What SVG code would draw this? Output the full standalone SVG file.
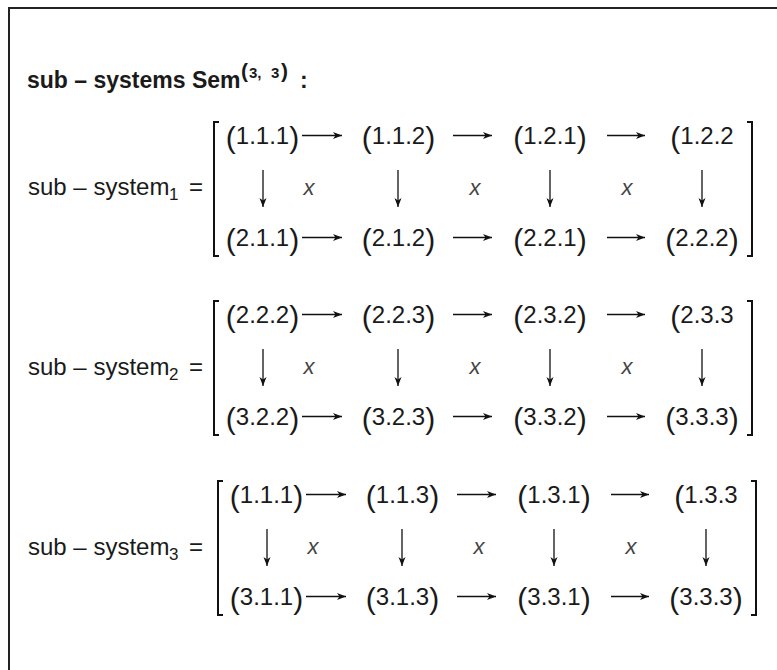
<svg xmlns="http://www.w3.org/2000/svg" width="777" height="670" viewBox="0 0 777 670">
<defs>
<style>
text{font-family:"Liberation Sans",Arial,sans-serif;fill:#1a1a1a}
.lbl{font-size:24px}
.sub{font-size:17px}
.e{font-size:24px;text-anchor:middle}
.p{font-size:30px}
.x{font-size:22px;font-style:italic;fill:#444;text-anchor:middle}
.br{fill:none;stroke:#111;stroke-width:2}
.c line{stroke:#111;stroke-width:1.3;marker-end:url(#ah)}
</style>
<marker id="ah" markerUnits="userSpaceOnUse" markerWidth="10" markerHeight="8" refX="9" refY="4" orient="auto">
<path d="M0,0.5 L9,4 L0,7.5 L2.5,4 z" fill="#111"/>
</marker>
</defs>
<rect width="777" height="670" fill="#fff"/>
<g id="frame"><path d="M9,670 V8 H777" fill="none" stroke="#222" stroke-width="2"/></g>

<g id="title">
<text x="27" y="88" font-size="23" font-weight="bold">sub – systems Sem</text>
<text y="78" font-weight="bold"><tspan x="241" font-size="21">(</tspan><tspan x="249" font-size="15">3,</tspan><tspan x="271" font-size="15">3</tspan><tspan x="281" font-size="21">)</tspan></text>
<text x="300" y="88" font-size="23" font-weight="bold">:</text>
</g>

<!-- sub-system 1 -->
<g id="system1">
<g id="label1"><text class="lbl" x="28" y="195">sub – system</text><text class="sub" x="169" y="200">1</text><text class="lbl" x="189" y="195">=</text></g>
<g id="matrix1">
<path class="br" d="M219,122 H214 V256 H219"/>
<path class="br" d="M747,122 H752 V256 H747"/>
<g id="s1-111"><text class="e" x="262.5" y="144"><tspan class="p" dy="4">(</tspan><tspan dy="-4">1.1.1</tspan><tspan class="p" dy="4">)</tspan></text></g>
<g id="s1-112"><text class="e" x="398.5" y="144"><tspan class="p" dy="4">(</tspan><tspan dy="-4">1.1.2</tspan><tspan class="p" dy="4">)</tspan></text></g>
<g id="s1-121"><text class="e" x="550" y="144"><tspan class="p" dy="4">(</tspan><tspan dy="-4">1.2.1</tspan><tspan class="p" dy="4">)</tspan></text></g>
<g id="s1-122"><text class="e" x="702" y="144"><tspan class="p" dy="4">(</tspan><tspan dy="-4">1.2.2</tspan></text></g>
<g id="s1-211"><text class="e" x="262.5" y="246"><tspan class="p" dy="4">(</tspan><tspan dy="-4">2.1.1</tspan><tspan class="p" dy="4">)</tspan></text></g>
<g id="s1-212"><text class="e" x="398.5" y="246"><tspan class="p" dy="4">(</tspan><tspan dy="-4">2.1.2</tspan><tspan class="p" dy="4">)</tspan></text></g>
<g id="s1-221"><text class="e" x="550" y="246"><tspan class="p" dy="4">(</tspan><tspan dy="-4">2.2.1</tspan><tspan class="p" dy="4">)</tspan></text></g>
<g id="s1-222"><text class="e" x="702" y="246"><tspan class="p" dy="4">(</tspan><tspan dy="-4">2.2.2</tspan><tspan class="p" dy="4">)</tspan></text></g>
<g id="s1-x"><text class="x" x="309" y="195">x</text><text class="x" x="475" y="195">x</text><text class="x" x="627" y="195">x</text></g>
</g>
</g>

<!-- sub-system 2 -->
<g id="system2">
<g id="label2"><text class="lbl" x="28" y="375">sub – system</text><text class="sub" x="169" y="380">2</text><text class="lbl" x="189" y="375">=</text></g>
<g id="matrix2" transform="translate(0,179)">
<path class="br" d="M219,122 H214 V256 H219"/>
<path class="br" d="M747,122 H752 V256 H747"/>
<g id="s2-222a"><text class="e" x="262.5" y="144"><tspan class="p" dy="4">(</tspan><tspan dy="-4">2.2.2</tspan><tspan class="p" dy="4">)</tspan></text></g>
<g id="s2-223"><text class="e" x="398.5" y="144"><tspan class="p" dy="4">(</tspan><tspan dy="-4">2.2.3</tspan><tspan class="p" dy="4">)</tspan></text></g>
<g id="s2-232"><text class="e" x="550" y="144"><tspan class="p" dy="4">(</tspan><tspan dy="-4">2.3.2</tspan><tspan class="p" dy="4">)</tspan></text></g>
<g id="s2-233"><text class="e" x="702" y="144"><tspan class="p" dy="4">(</tspan><tspan dy="-4">2.3.3</tspan></text></g>
<g id="s2-322"><text class="e" x="262.5" y="246"><tspan class="p" dy="4">(</tspan><tspan dy="-4">3.2.2</tspan><tspan class="p" dy="4">)</tspan></text></g>
<g id="s2-323"><text class="e" x="398.5" y="246"><tspan class="p" dy="4">(</tspan><tspan dy="-4">3.2.3</tspan><tspan class="p" dy="4">)</tspan></text></g>
<g id="s2-332"><text class="e" x="550" y="246"><tspan class="p" dy="4">(</tspan><tspan dy="-4">3.3.2</tspan><tspan class="p" dy="4">)</tspan></text></g>
<g id="s2-333"><text class="e" x="702" y="246"><tspan class="p" dy="4">(</tspan><tspan dy="-4">3.3.3</tspan><tspan class="p" dy="4">)</tspan></text></g>
<g id="s2-x"><text class="x" x="309" y="195">x</text><text class="x" x="475" y="195">x</text><text class="x" x="627" y="195">x</text></g>
</g>
</g>

<!-- sub-system 3 -->
<g id="system3">
<g id="label3"><text class="lbl" x="28" y="555">sub – system</text><text class="sub" x="169" y="560">3</text><text class="lbl" x="189" y="555">=</text></g>
<g id="matrix3" transform="translate(4,359)">
<path class="br" d="M219,122 H214 V256 H219"/>
<path class="br" d="M747,122 H752 V256 H747"/>
<g id="s3-111"><text class="e" x="262.5" y="144"><tspan class="p" dy="4">(</tspan><tspan dy="-4">1.1.1</tspan><tspan class="p" dy="4">)</tspan></text></g>
<g id="s3-113"><text class="e" x="398.5" y="144"><tspan class="p" dy="4">(</tspan><tspan dy="-4">1.1.3</tspan><tspan class="p" dy="4">)</tspan></text></g>
<g id="s3-131"><text class="e" x="550" y="144"><tspan class="p" dy="4">(</tspan><tspan dy="-4">1.3.1</tspan><tspan class="p" dy="4">)</tspan></text></g>
<g id="s3-133"><text class="e" x="702" y="144"><tspan class="p" dy="4">(</tspan><tspan dy="-4">1.3.3</tspan></text></g>
<g id="s3-311"><text class="e" x="262.5" y="246"><tspan class="p" dy="4">(</tspan><tspan dy="-4">3.1.1</tspan><tspan class="p" dy="4">)</tspan></text></g>
<g id="s3-313"><text class="e" x="398.5" y="246"><tspan class="p" dy="4">(</tspan><tspan dy="-4">3.1.3</tspan><tspan class="p" dy="4">)</tspan></text></g>
<g id="s3-331"><text class="e" x="550" y="246"><tspan class="p" dy="4">(</tspan><tspan dy="-4">3.3.1</tspan><tspan class="p" dy="4">)</tspan></text></g>
<g id="s3-333"><text class="e" x="702" y="246"><tspan class="p" dy="4">(</tspan><tspan dy="-4">3.3.3</tspan><tspan class="p" dy="4">)</tspan></text></g>
<g id="s3-x"><text class="x" x="309" y="195">x</text><text class="x" x="475" y="195">x</text><text class="x" x="627" y="195">x</text></g>
</g>
</g>

<g id="connectors" class="c">
<g id="c1">
<line x1="302" y1="135.5" x2="342" y2="135.5"/><line x1="453" y1="135.5" x2="492" y2="135.5"/><line x1="607" y1="135.5" x2="645" y2="135.5"/>
<line x1="302" y1="237.5" x2="342" y2="237.5"/><line x1="453" y1="237.5" x2="492" y2="237.5"/><line x1="607" y1="237.5" x2="645" y2="237.5"/>
<line x1="263" y1="170" x2="263" y2="207"/><line x1="398" y1="170" x2="398" y2="207"/><line x1="550" y1="170" x2="550" y2="207"/><line x1="702" y1="170" x2="702" y2="207"/>
</g>
<g id="c2" transform="translate(0,179)">
<line x1="302" y1="135.5" x2="342" y2="135.5"/><line x1="453" y1="135.5" x2="492" y2="135.5"/><line x1="607" y1="135.5" x2="645" y2="135.5"/>
<line x1="302" y1="237.5" x2="342" y2="237.5"/><line x1="453" y1="237.5" x2="492" y2="237.5"/><line x1="607" y1="237.5" x2="645" y2="237.5"/>
<line x1="263" y1="170" x2="263" y2="207"/><line x1="398" y1="170" x2="398" y2="207"/><line x1="550" y1="170" x2="550" y2="207"/><line x1="702" y1="170" x2="702" y2="207"/>
</g>
<g id="c3" transform="translate(4,359)">
<line x1="302" y1="135.5" x2="342" y2="135.5"/><line x1="453" y1="135.5" x2="492" y2="135.5"/><line x1="607" y1="135.5" x2="645" y2="135.5"/>
<line x1="302" y1="237.5" x2="342" y2="237.5"/><line x1="453" y1="237.5" x2="492" y2="237.5"/><line x1="607" y1="237.5" x2="645" y2="237.5"/>
<line x1="263" y1="170" x2="263" y2="207"/><line x1="398" y1="170" x2="398" y2="207"/><line x1="550" y1="170" x2="550" y2="207"/><line x1="702" y1="170" x2="702" y2="207"/>
</g>
</g>
</svg>
